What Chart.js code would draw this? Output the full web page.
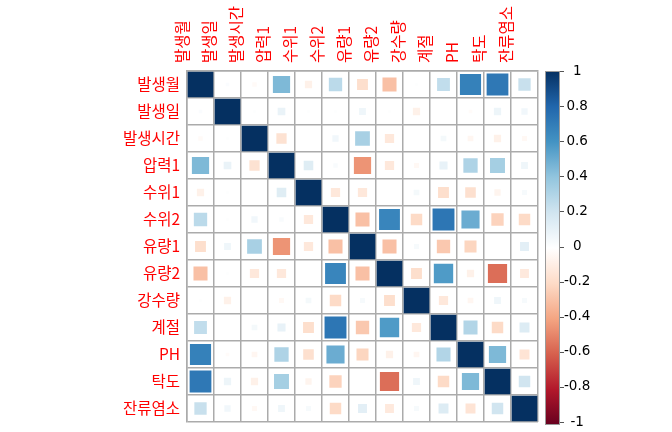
<!DOCTYPE html>
<html><head><meta charset="utf-8">
<script src="https://cdn.jsdelivr.net/npm/chart.js@4"></script>
<style>html,body{margin:0;padding:0;background:#fff}#wrap{width:672px;height:432px}</style>
</head><body><div id="wrap"><canvas id="c"></canvas></div>
<script>
// ---- data ----
const variables = ["발생월","발생일","발생시간","압력1","수위1","수위2","유량1","유량2","강수량","계절","PH","탁도","잔류염소"];
const row01 = [1, 0.02, -0.03, 0.45, -0.08, 0.27, -0.18, -0.3, 0.01, 0.25, 0.68, 0.72, 0.23];
const row02 = [0.02, 1, 0.01, 0.09, 0.01, 0.01, 0.07, 0.01, -0.08, 0.0, -0.02, 0.08, 0.06];
const row03 = [-0.03, 0.01, 1, -0.16, 0.0, 0.06, 0.33, -0.13, 0.0, 0.05, -0.05, -0.08, -0.04];
const row04 = [0.45, 0.09, -0.16, 1, 0.14, 0.03, -0.45, -0.13, -0.04, 0.1, 0.31, 0.34, 0.07];
const row05 = [-0.08, 0.01, 0.0, 0.14, 1, -0.13, -0.13, 0.0, 0.05, -0.18, -0.17, -0.06, 0.04];
const row06 = [0.27, 0.01, 0.06, 0.03, -0.13, 1, -0.3, 0.66, -0.2, 0.73, 0.5, -0.23, -0.2];
const row07 = [-0.18, 0.07, 0.33, -0.45, -0.13, -0.3, 1, -0.3, 0.04, -0.27, -0.22, 0.0, 0.12];
const row08 = [-0.3, 0.01, -0.13, -0.13, 0.0, 0.66, -0.3, 1, -0.18, 0.57, -0.08, -0.56, -0.12];
const row09 = [0.01, -0.08, 0.0, -0.04, 0.05, -0.2, 0.04, -0.18, 1, -0.13, -0.05, 0.07, 0.04];
const row10 = [0.25, 0.0, 0.05, 0.1, -0.18, 0.73, -0.27, 0.57, -0.13, 1, 0.3, -0.2, 0.15];
const row11 = [0.68, -0.02, -0.05, 0.31, -0.17, 0.5, -0.22, -0.08, -0.05, 0.3, 1, 0.45, -0.15];
const row12 = [0.72, 0.08, -0.08, 0.34, -0.06, -0.23, 0.0, -0.56, 0.07, -0.2, 0.45, 1, 0.2];
const row13 = [0.23, 0.06, -0.04, 0.07, 0.04, -0.2, 0.12, -0.12, 0.04, 0.15, -0.15, 0.2, 1];
const colorbarTicks = [1, 0.8, 0.6, 0.4, 0.2, 0, -0.2, -0.4, -0.6, -0.8, -1];
const colorbarLabels = ["1","0.8","0.6","0.4","0.2","0","-0.2","-0.4","-0.6","-0.8","-1"];

// ---- build ----
const corrRows = [row01,row02,row03,row04,row05,row06,row07,row08,row09,row10,row11,row12,row13];
const palette = ["#67001F","#B2182B","#D6604D","#F4A582","#FDDBC7","#FFFFFF","#D1E5F0","#92C5DE","#4393C3","#2166AC","#053061"];
function hex(c){return [parseInt(c.slice(1,3),16),parseInt(c.slice(3,5),16),parseInt(c.slice(5,7),16)];}
function colorFor(v){
  let t = (v + 1) / 2 * 10; if (t >= 10) t = 9.9999; if (t < 0) t = 0;
  const i = Math.floor(t), f = t - i;
  const a = hex(palette[i]), b = hex(palette[i+1]);
  const m = a.map((x,k)=>Math.round(x + (b[k]-x)*f));
  return `rgb(${m[0]},${m[1]},${m[2]})`;
}
const points = [];
corrRows.forEach((row, i) => row.forEach((v, j) => points.push({x: variables[j], y: variables[i], v})));

const colorbarPlugin = {
  id: 'colorbar',
  afterDraw(chart) {
    const s = chart.scales.yc, ctx = chart.ctx;
    const x0 = s.left + 7, w = 15;
    const yTop = s.getPixelForValue(1), yBot = s.getPixelForValue(-1) + 3;
    const g = ctx.createLinearGradient(0, yTop, 0, yBot);
    palette.forEach((c, i) => g.addColorStop(1 - i / 10, c));
    ctx.save();
    ctx.fillStyle = g;
    ctx.fillRect(x0, yTop, w, yBot - yTop);
    ctx.strokeStyle = '#9a9a9a'; ctx.lineWidth = 1;
    ctx.strokeRect(x0 + 0.5, yTop + 0.5, w - 1, yBot - yTop - 1);
    ctx.strokeStyle = '#555';
    s.ticks.forEach(t => {
      const y = Math.round(s.getPixelForValue(t.value)) + 0.5;
      ctx.beginPath(); ctx.moveTo(x0 + w, y); ctx.lineTo(x0 + w + 4, y); ctx.stroke();
    });
    ctx.restore();
  }
};
function noPad(s){ s.paddingTop = 0; s.paddingBottom = 0; s.paddingLeft = 0; s.paddingRight = 0; }

const labelFont = {family: "'Noto Sans CJK KR', 'Noto Sans', sans-serif", size: 15.5};
new Chart(document.getElementById('c'), {
  type: 'scatter',
  data: { datasets: [{
    data: points,
    pointStyle: 'rect',
    pointRadius: ctx => {
      const cell = ctx.chart.scales.x.width / 13;
      const v = ctx.raw ? ctx.raw.v : 0;
      return Math.sqrt(Math.abs(v)) * cell * 0.95 / Math.SQRT2;
    },
    pointHoverRadius: 0,
    backgroundColor: ctx => colorFor(ctx.raw ? ctx.raw.v : 0),
    borderWidth: 0
  }]},
  options: {
    responsive: true, maintainAspectRatio: false, animation: false, events: [],
    layout: { padding: {left: 0, right: 0, top: 0, bottom: 10} },
    plugins: { legend: {display: false}, tooltip: {enabled: false} },
    scales: {
      x: {
        type: 'category', labels: variables, position: 'top', offset: true,
        grid: { offset: true, color: '#ababab', lineWidth: 1.5, drawTicks: false },
        border: { color: '#ababab', width: 1.5 },
        ticks: { color: '#ff0000', font: labelFont, minRotation: 90, maxRotation: 90, padding: 8, autoSkip: false },
        afterFit: s => { s.height = 71; noPad(s); }
      },
      y: {
        type: 'category', labels: variables, position: 'left', offset: true,
        grid: { offset: true, color: '#ababab', lineWidth: 1.5, drawTicks: false },
        border: { color: '#ababab', width: 1.5 },
        ticks: { color: '#ff0000', font: labelFont, padding: 7, autoSkip: false },
        afterFit: s => { s.width = 187; noPad(s); }
      },
      yc: {
        type: 'linear', position: 'right', min: -1, max: 1,
        grid: { display: false }, border: { display: false },
        afterBuildTicks: s => { s.ticks = colorbarTicks.map(v => ({value: v})); },
        ticks: {
          color: '#000', font: {family: "'DejaVu Sans', sans-serif", size: 13.5},
          crossAlign: 'center', padding: 18, autoSkip: false,
          callback: (v) => { const k = colorbarTicks.findIndex(t => Math.abs(t - v) < 1e-9); return k >= 0 ? colorbarLabels[k] : ''; }
        },
        afterFit: s => { s.width = 134; noPad(s); }
      }
    }
  },
  plugins: [colorbarPlugin]
});
</script></body></html>
